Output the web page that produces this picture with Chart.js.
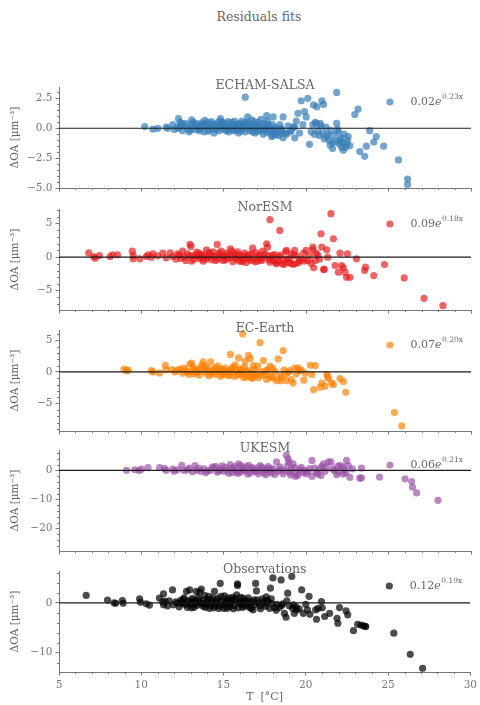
<!DOCTYPE html>
<html>
<head>
<meta charset="utf-8">
<title>Residuals fits</title>
<script src="https://cdn.jsdelivr.net/npm/chart.js@4.4.1/dist/chart.umd.min.js"></script>
<style>
  html, body { margin: 0; padding: 0; background: #fff; }
  #wrap { position: relative; width: 480px; height: 705px; overflow: hidden; }
  #wrap canvas { position: absolute; left: 0; }
  #suptitle {
    position: absolute; top: 9px; left: 0; width: 518px; text-align: center;
    font: 12.5px 'DejaVu Serif', serif; color: #666;
  }
</style>
</head>
<body>
<div id="wrap">
  <div id="suptitle">Residuals fits</div>
</div>
<script>
// residuals (T in °C, ΔOA in µm^-3)
const echam = [
  [10.2,0.14],[10.7,-0.08],[11.0,0.0],[11.5,0.1],[11.6,0.0],[11.9,0.3],[12.0,-0.1],[12.2,0.1],
  [12.25,0.8],[12.25,0.0],[12.35,0.5],[12.45,0.4],[12.5,-0.2],[12.6,0.2],[12.8,0.0],[12.9,-0.3],
  [12.95,-0.15],[13.0,0.3],[13.05,0.7],[13.1,0.1],[13.2,-0.1],[13.3,0.4],[13.4,0.2],[13.5,-0.2],
  [13.55,0.25],[13.6,0.0],[13.7,0.3],[13.8,-0.3],[13.85,0.65],[13.9,0.1],[14.0,0.5],[14.1,-0.1],
  [14.2,0.2],[14.3,0.0],[14.4,-0.4],[14.5,0.3],[14.6,0.1],[14.7,-0.2],[14.8,0.6],[14.8,0.8],
  [14.9,0.2],[15.0,-0.1],[15.1,0.4],[15.2,0.0],[15.3,-0.3],[15.4,0.2],[15.5,0.5],[15.6,-0.2],
  [15.7,0.1],[15.8,0.3],[15.9,-0.4],[16.0,0.0],[16.1,0.6],[16.2,0.2],[16.3,2.6],[16.3,-0.3],
  [16.4,0.4],[16.45,0.95],[16.5,0.1],[16.6,-0.2],[16.7,0.7],[16.8,0.3],[16.9,-0.4],[17.0,0.0],
  [17.1,0.5],[17.2,-0.2],[17.3,0.2],[17.4,-0.5],[17.5,0.1],[17.6,1.05],[17.6,-0.1],[17.7,0.3],
  [17.8,-0.4],[17.9,-0.7],[18.0,0.95],[18.0,-0.6],[18.1,0.1],[18.2,-0.5],[18.3,-0.3],[18.4,0.3],
  [18.5,-0.1],[18.6,0.95],[18.6,-0.8],[18.7,-0.4],[18.9,0.2],[19.0,-0.3],[19.2,0.1],[19.3,-0.8],
  [19.4,0.6],[19.5,1.25],[19.7,2.3],[19.9,1.4],[20.0,0.95],[20.1,2.5],[20.2,-1.35],[20.3,-0.3],
  [20.4,0.3],[20.45,1.95],[20.5,-0.5],[20.55,0.5],[20.6,0.4],[20.65,1.8],[20.7,-0.2],[20.8,-0.6],
  [20.85,0.4],[20.9,0.2],[20.95,2.3],[21.0,-0.4],[21.05,2.0],[21.1,-0.9],[21.2,0.1],[21.25,-0.7],
  [21.3,-0.5],[21.4,-1.0],[21.45,-1.4],[21.5,-0.2],[21.6,-1.7],[21.6,-1.2],[21.7,-0.6],[21.8,-1.1],
  [21.85,3.0],[21.85,0.4],[21.9,-0.1],[21.95,-0.3],[22.0,-1.3],[22.05,-1.0],[22.1,-0.8],[22.15,-1.6],
  [22.2,-1.2],[22.25,-1.85],[22.3,-0.5],[22.4,-1.6],[22.45,-1.3],[22.5,-1.0],[22.55,-0.7],[22.65,-1.45],
  [22.95,1.15],[23.15,1.6],[23.25,-1.95],[23.55,-2.35],[23.65,-1.5],[23.85,-0.2],[24.1,-1.15],[24.25,-0.7],
  [24.7,-1.5],[25.6,-2.65],[26.15,-4.25],[26.15,-4.7],
  [12.4,0.2],[12.7,0.4],[13.15,0.5],[13.45,-0.05],[13.65,0.45],[13.95,0.3],[14.05,-0.25],[14.25,0.55],
  [14.35,0.35],[14.55,-0.1],[14.65,0.5],[14.75,0.05],[14.95,0.45],[15.05,0.15],[15.15,-0.2],[15.25,0.55],
  [15.35,0.1],[15.45,-0.1],[15.55,0.3],[15.65,0.6],[15.75,-0.15],[15.85,0.05],[15.95,0.4],[16.05,-0.2],
  [16.15,0.3],[16.25,0.0],[16.35,0.5],[16.55,0.35],[16.65,0.05],[16.75,-0.3],[16.85,0.55],[16.95,0.15],
  [17.05,-0.25],[17.15,0.25],[17.25,0.75],[17.35,-0.1],[17.45,0.4],[17.55,-0.3],[17.65,0.6],[17.75,0.05],
  [17.85,-0.2],[17.95,0.3],[18.05,-0.4],[18.15,-0.1],[18.35,-0.6],[18.45,0.0],[18.55,-0.3],[18.8,-0.5],
  [19.1,-0.2],[19.3,0.1],[19.6,-0.4],[19.8,0.3]
];
const noresm = [
  [6.8,0.65],[7.1,0.1],[7.2,-0.15],[7.45,0.25],[8.1,0.1],[8.25,0.35],[8.55,0.35],[9.45,0.9],
  [9.5,0.25],[9.5,-0.25],[9.9,-0.25],[10.3,0.1],[10.4,0.35],[10.7,0.5],[10.6,0.0],[11.0,0.2],
  [11.3,0.6],[11.5,-0.1],[11.75,0.65],[11.9,0.1],[12.1,-0.3],[12.3,0.3],[12.5,0.9],[12.6,0.0],
  [12.7,-0.5],[12.8,0.5],[12.95,1.9],[13.0,1.6],[13.1,0.2],[13.2,-0.3],[13.35,0.75],[13.45,0.1],
  [13.55,-0.25],[13.65,0.4],[13.75,-0.6],[13.85,0.3],[13.95,1.1],[14.05,0.0],[14.15,0.5],[14.25,-0.4],
  [14.35,0.8],[14.45,0.1],[14.6,1.9],[14.65,-0.3],[14.75,0.4],[14.85,0.9],[14.95,-0.5],[15.05,0.2],
  [15.15,0.6],[15.25,-0.2],[15.4,1.25],[15.45,0.0],[15.55,-0.7],[15.65,0.5],[15.75,-0.3],[15.85,0.8],
  [15.95,-0.6],[16.05,0.2],[16.15,-0.4],[16.25,0.6],[16.35,-0.8],[16.45,0.0],[16.55,0.4],[16.65,-0.5],
  [16.75,1.35],[16.85,-0.2],[16.95,0.7],[17.05,-0.6],[17.15,0.3],[17.25,-0.3],[17.35,0.9],[17.45,-0.1],
  [17.6,2.0],[17.65,1.5],[17.7,0.2],[17.8,5.6],[17.8,-0.75],[17.9,-0.1],[18.0,-0.5],[18.1,0.4],
  [18.2,-1.0],[18.3,-0.6],[18.4,4.0],[18.45,0.3],[18.55,-1.0],[18.6,-0.4],[18.75,0.8],[18.8,1.0],
  [18.9,-0.8],[19.0,-0.2],[19.1,0.5],[19.2,-1.1],[19.3,1.0],[19.35,-1.0],[19.45,0.2],[19.6,-0.5],
  [19.75,-0.3],[19.85,0.6],[20.0,1.0],[20.1,-0.5],[20.2,0.2],[20.4,1.1],[20.4,1.5],[20.45,-1.6],
  [20.55,-0.5],[20.7,0.3],[20.9,3.5],[20.95,1.5],[21.05,-1.85],[21.1,-1.8],[21.25,1.1],[21.3,0.0],
  [21.5,6.5],[21.65,2.75],[21.75,-1.25],[21.95,-2.25],[22.05,0.6],[22.15,-1.25],[22.25,-1.6],[22.35,-2.25],
  [22.45,-3.0],[22.5,0.5],[22.65,-3.0],[23.05,-0.25],[23.55,-2.0],[23.6,-1.5],[24.1,-2.75],[24.75,-1.1],
  [25.95,-3.1],[27.15,-6.15],[28.3,-7.25],
  [12.2,0.5],[12.4,-0.2],[12.9,0.2],[13.05,-0.6],[13.3,0.3],[13.5,0.6],[13.7,0.1],[13.9,-0.3],
  [14.1,0.7],[14.3,0.2],[14.5,-0.5],[14.7,0.6],[14.9,0.1],[15.1,-0.4],[15.3,0.4],[15.5,0.9],
  [15.7,0.0],[15.9,0.3],[16.1,-0.7],[16.3,0.2],[16.5,-0.3],[16.7,0.5],[16.9,-0.7],[17.1,0.1],
  [17.3,-0.5],[17.5,0.5],[17.75,-0.4],[17.95,0.3],[18.15,-0.8],[18.35,0.1],[18.65,-1.1],[18.85,-0.3],
  [19.05,-0.9],[19.25,0.3],[19.55,-0.8],[19.9,-0.6],[20.3,-0.9],[20.6,0.6],[20.8,-0.3]
];
const ecearth = [
  [8.95,0.45],[9.1,0.2],[9.2,0.3],[10.6,0.2],[10.7,0.0],[11.1,-0.15],[11.45,1.05],[11.5,0.35],
  [11.85,0.35],[12.05,0.0],[12.35,0.5],[12.5,-0.2],[12.6,0.6],[12.8,0.0],[12.95,1.25],[13.05,1.4],
  [13.1,0.1],[13.2,-0.3],[13.3,0.4],[13.4,0.0],[13.5,-0.5],[13.65,1.05],[13.75,1.6],[13.8,0.35],
  [13.9,-0.2],[14.0,0.6],[14.1,-0.6],[14.2,1.6],[14.3,-0.1],[14.4,0.3],[14.5,-0.4],[14.65,0.9],
  [14.7,0.1],[14.8,-0.7],[14.9,0.4],[15.0,-0.2],[15.1,0.6],[15.2,-0.5],[15.3,0.2],[15.4,2.75],
  [15.45,-0.1],[15.55,0.8],[15.65,-0.7],[15.75,0.3],[15.9,2.2],[15.95,-0.3],[16.05,0.5],[16.15,6.0],
  [16.2,-0.9],[16.3,1.7],[16.35,0.1],[16.45,-0.6],[16.5,2.6],[16.6,2.1],[16.65,-0.2],[16.75,-0.9],
  [16.85,0.4],[16.95,-0.5],[17.05,0.9],[17.2,4.6],[17.25,0.0],[17.4,1.8],[17.45,-0.4],[17.6,-1.2],
  [17.65,0.3],[17.8,0.9],[17.9,-0.7],[18.0,-1.0],[18.1,0.1],[18.3,2.05],[18.4,-0.6],[18.5,-0.95],
  [18.6,3.35],[18.65,0.3],[18.75,-0.4],[18.9,-0.1],[19.1,-1.2],[19.2,-1.75],[19.3,0.6],[19.4,-0.3],
  [19.5,0.65],[19.6,0.2],[19.85,-1.3],[19.95,-0.2],[20.25,1.05],[20.35,-0.4],[20.45,-2.8],[20.55,1.0],
  [20.85,-2.4],[20.95,-1.75],[21.15,-2.25],[21.25,-0.4],[21.3,-0.75],[21.35,-1.05],[21.55,-1.75],[21.65,-2.0],
  [22.05,-1.05],[22.25,-1.5],[22.4,-3.2],[25.35,-6.4],[25.8,-8.5],
  [12.2,0.3],[12.7,0.2],[12.9,-0.4],[13.15,0.7],[13.35,-0.1],[13.55,0.5],[13.85,0.9],[14.05,0.2],
  [14.25,-0.3],[14.45,0.7],[14.55,0.2],[14.75,0.4],[14.95,-0.4],[15.15,0.1],[15.35,-0.6],[15.5,0.5],
  [15.7,1.1],[15.85,-0.5],[16.0,0.3],[16.1,-0.3],[16.25,0.8],[16.4,-0.8],[16.55,0.2],[16.7,-1.0],
  [16.8,1.0],[16.9,-0.6],[17.1,-0.9],[17.35,-0.5],[17.55,0.2],[17.75,-0.8],[17.95,0.6],[18.2,-1.4],
  [18.45,-1.4],[18.8,-1.4],[19.0,0.2],[19.7,0.3]
];
const ukesm = [
  [9.1,0.0],[9.6,0.2],[9.85,-0.1],[10.0,0.4],[10.4,0.9],[11.1,0.9],[11.4,0.7],[11.5,0.0],
  [11.9,0.4],[12.2,0.2],[12.45,1.75],[12.6,-0.1],[12.9,0.8],[13.25,1.6],[13.35,0.1],[13.6,-0.4],
  [13.8,0.5],[14.0,-0.2],[14.2,0.0],[14.4,0.9],[14.5,1.4],[14.6,-0.6],[14.8,0.4],[15.0,-0.3],
  [15.1,1.0],[15.2,0.0],[15.4,2.0],[15.5,-0.8],[15.6,0.5],[15.75,-0.4],[15.9,2.2],[16.0,-0.6],
  [16.1,0.7],[16.25,-0.2],[16.35,1.2],[16.5,1.75],[16.6,-0.9],[16.75,0.3],[16.9,-0.5],[17.0,0.8],
  [17.15,-0.2],[17.3,1.1],[17.45,-0.9],[17.6,0.6],[17.75,-0.3],[17.9,-0.9],[18.0,0.5],[18.2,2.9],
  [18.3,-0.4],[18.45,0.3],[18.6,-1.2],[18.8,5.2],[18.9,3.95],[18.95,2.9],[19.0,-0.6],[19.1,0.4],
  [19.2,2.2],[19.35,-2.1],[19.4,-0.9],[19.6,0.2],[19.8,-0.8],[19.9,0.0],[20.1,-0.5],[20.35,3.4],
  [20.35,-2.1],[20.5,0.8],[20.7,-1.3],[20.8,0.4],[20.95,1.4],[21.05,2.2],[21.15,-0.3],[21.35,2.9],
  [21.5,2.9],[21.7,-0.1],[21.85,-1.5],[21.9,1.4],[22.05,1.7],[22.25,-1.3],[22.3,0.2],[22.45,3.4],
  [22.55,1.6],[22.65,-2.45],[22.8,0.5],[23.25,-2.7],[23.35,-2.6],[23.35,0.8],[24.45,-2.3],[26.0,-2.9],
  [26.4,-3.85],[26.45,-5.8],[26.7,-7.8],[28.0,-10.35],
  [12.0,-0.3],[12.8,0.2],[13.1,-0.5],[13.5,0.7],[13.9,-0.8],[14.3,1.1],[14.7,-0.2],[14.9,1.5],
  [15.3,-1.0],[15.45,0.7],[15.7,1.3],[15.85,-1.1],[16.05,1.6],[16.2,0.2],[16.45,-1.3],[16.7,1.0],
  [16.85,-0.1],[17.1,-1.2],[17.2,1.6],[17.4,0.2],[17.55,-1.5],[17.7,1.3],[17.85,0.4],[18.1,-1.4],
  [18.4,1.2],[18.7,-0.2],[18.85,1.5],[19.05,-1.6],[19.3,0.9],[19.5,-1.7],[19.7,1.0],[20.0,-1.2],
  [20.2,0.6],[20.6,-0.6],[20.9,-1.8],[21.2,0.9],[21.6,0.5],[21.95,-0.6],[22.2,1.2],[22.4,-0.8]
];
const obs = [
  [6.65,1.5],[7.95,0.55],[8.35,0.0],[8.45,-0.1],[8.85,0.45],[8.9,-0.1],[9.9,0.8],[9.95,0.1],
  [10.3,-0.2],[10.5,-0.45],[11.1,0.95],[11.35,1.8],[11.35,-0.4],[11.45,0.3],[11.6,-0.6],[11.9,2.6],
  [11.95,-0.4],[12.1,0.2],[12.3,-0.8],[12.4,0.5],[12.5,-0.2],[12.6,1.0],[12.75,2.3],[12.8,-0.9],
  [12.85,0.4],[12.95,2.6],[13.0,-0.3],[13.1,0.9],[13.2,-0.9],[13.25,0.2],[13.35,2.3],[13.4,-0.5],
  [13.5,0.6],[13.55,2.2],[13.65,2.75],[13.7,-0.2],[13.8,0.6],[13.9,-0.9],[14.0,0.2],[14.1,1.3],
  [14.2,-0.5],[14.3,0.5],[14.4,-1.0],[14.45,2.3],[14.55,0.0],[14.65,0.9],[14.75,-0.6],[14.8,3.9],
  [14.9,0.3],[15.0,-1.1],[15.05,1.4],[15.15,-0.2],[15.25,0.6],[15.35,-0.8],[15.45,0.1],[15.55,1.1],
  [15.65,-0.5],[15.75,0.4],[15.8,1.6],[15.85,3.5],[15.85,3.8],[15.9,-1.0],[16.0,0.2],[16.1,-0.3],
  [16.2,0.9],[16.3,-0.7],[16.45,0.4],[16.55,-0.1],[16.7,-1.1],[16.8,-1.4],[16.85,0.6],[16.95,3.9],
  [17.0,2.4],[17.1,0.0],[17.2,-0.6],[17.35,0.8],[17.5,-0.2],[17.6,1.2],[17.7,0.3],[17.8,-1.1],
  [17.85,2.95],[17.9,0.8],[18.0,5.0],[18.1,-1.0],[18.25,-0.3],[18.5,4.6],[18.55,-0.5],[18.7,-2.1],
  [18.8,-2.9],[18.85,0.4],[18.9,1.95],[19.0,-0.6],[19.15,5.3],[19.2,-1.1],[19.25,-0.4],[19.3,-2.1],
  [19.45,-1.4],[19.6,-1.2],[19.75,2.6],[19.85,-2.1],[20.0,-0.3],[20.1,-1.4],[20.2,1.3],[20.25,-2.3],
  [20.6,-1.4],[20.65,-3.3],[20.75,-1.1],[20.95,0.25],[21.0,-1.0],[21.15,-2.75],[21.45,-2.1],[21.9,-3.1],
  [21.95,-4.1],[22.05,-0.95],[22.45,-1.6],[22.55,-2.4],[22.9,-5.6],[23.15,-4.3],[23.35,-4.45],[23.5,-4.6],
  [23.6,-4.7],[23.65,-4.75],[25.35,-6.1],[26.35,-10.35],[27.1,-13.15],
  [11.3,0.2],[11.7,0.4],[12.2,-0.1],[12.45,0.1],[12.55,0.7],[12.7,-0.3],[12.9,0.3],[13.05,-1.0],
  [13.15,0.5],[13.3,-0.2],[13.45,1.1],[13.6,0.0],[13.75,-0.7],[13.85,1.5],[13.95,-0.3],[14.05,0.7],
  [14.15,-1.1],[14.25,0.1],[14.35,1.0],[14.5,-0.6],[14.6,0.4],[14.7,-1.1],[14.85,1.3],[14.95,-0.4],
  [15.1,0.2],[15.2,-1.1],[15.3,1.0],[15.4,-0.3],[15.5,0.5],[15.6,-1.2],[15.7,0.9],[15.95,0.0],
  [16.05,1.1],[16.15,-0.9],[16.25,0.3],[16.4,-0.4],[16.5,1.0],[16.6,-1.0],[16.75,0.2],[16.9,-0.3],
  [17.05,0.6],[17.25,-1.2],[17.4,0.2],[17.55,-0.7],[17.65,0.5],[17.95,-0.2],[18.2,-1.5],[18.4,-0.9],
  [18.6,-0.2],[19.4,-0.8]
];

const seriesData = [echam, noresm, ecearth, ukesm, obs];
const modelNames = ['ECHAM-SALSA', 'NorESM', 'EC-Earth', 'UKESM', 'Observations'];
const fitCoef = ['0.02', '0.09', '0.07', '0.06', '0.12'];
const fitRate = ['0.23', '0.18', '0.20', '0.21', '0.19'];
const colors = [
  'rgba(55,126,184,0.7)',
  'rgba(228,26,28,0.68)',
  'rgba(255,127,0,0.68)',
  'rgba(152,78,163,0.68)',
  'rgba(0,0,0,0.7)',
];
const yLimits = [[-5.0, 3.45], [-7.9, 7.2], [-9.3, 6.6], [-27.8, 7.0], [-13.9, 6.4]];
const yMajorStep = [2.5, 5, 5, 10, 10];
const yMinorStep = [0.5, 1, 1, 2, 2];
const xTicks = [5, 10, 15, 20, 25, 30];

const plotTops = [87, 209, 330, 450, 571];
const plotH = 101;
const topSpace = 20;
const axisGrey = '#777';
const textGrey = '#666';
const serif = "'DejaVu Serif', serif";

Chart.defaults.font.family = serif;
Chart.defaults.color = axisGrey;

function fmt(v, dec) {
  const s = Math.abs(v).toFixed(dec);
  return v < -1e-9 ? '\u2212' + s : s;
}

// short minor ticks + subplot title + fit label
const decorations = {
  id: 'decorations',
  afterDraw(chart, args, opts) {
    const ctx = chart.ctx;
    const xs = chart.scales.x, ys = chart.scales.y;
    const area = chart.chartArea;
    ctx.save();
    ctx.strokeStyle = axisGrey;
    ctx.lineWidth = 1;
    ctx.beginPath();
    for (let v = 6; v < 30; v++) {
      if (v % 5 === 0) continue;
      const px = Math.round(xs.getPixelForValue(v)) + 0.5;
      ctx.moveTo(px, area.bottom);
      ctx.lineTo(px, area.bottom + 2);
    }
    const n0 = Math.ceil(ys.min / opts.minor), n1 = Math.floor(ys.max / opts.minor);
    const ratio = Math.round(opts.major / opts.minor);
    for (let k = n0; k <= n1; k++) {
      if (k % ratio === 0) continue;
      const py = Math.round(ys.getPixelForValue(k * opts.minor)) + 0.5;
      ctx.moveTo(area.left, py);
      ctx.lineTo(area.left - 2, py);
    }
    ctx.stroke();

    // subplot title
    ctx.fillStyle = textGrey;
    ctx.font = '12.5px ' + serif;
    ctx.textAlign = 'center';
    ctx.textBaseline = 'alphabetic';
    ctx.fillText(opts.title, (area.left + area.right) / 2, area.top + 1.5);

    // fit label with marker
    const ly = area.top + 15;
    ctx.fillStyle = opts.color;
    ctx.beginPath();
    ctx.arc(area.right - 81, ly, 3.6, 0, Math.PI * 2);
    ctx.fill();
    ctx.fillStyle = textGrey;
    ctx.textAlign = 'left';
    ctx.textBaseline = 'middle';
    let tx = area.right - 60.5;
    ctx.font = '11px ' + serif;
    ctx.fillText(opts.coef, tx, ly);
    tx += ctx.measureText(opts.coef).width;
    ctx.font = 'italic 11px ' + serif;
    ctx.fillText('e', tx, ly);
    tx += ctx.measureText('e').width + 0.5;
    ctx.font = '7.5px ' + serif;
    ctx.fillText(opts.rate + 'x', tx, ly - 4.5);
    ctx.restore();
  }
};

const wrap = document.getElementById('wrap');

seriesData.forEach((pts, i) => {
  const isLast = i === seriesData.length - 1;
  const bottomH = isLast ? 33 : 12;
  const canvas = document.createElement('canvas');
  canvas.width = 480;
  canvas.height = topSpace + plotH + bottomH;
  canvas.style.top = (plotTops[i] - topSpace) + 'px';
  wrap.appendChild(canvas);

  const dec = yMajorStep[i] % 1 === 0 ? 0 : 1;

  new Chart(canvas.getContext('2d'), {
    type: 'scatter',
    data: {
      datasets: [
        {
          type: 'line',
          data: [{ x: 5, y: 0 }, { x: 30, y: 0 }],
          borderColor: '#1a1a1a',
          borderWidth: 1.2,
          pointRadius: 0,
          order: 0,
        },
        {
          label: modelNames[i],
          data: pts.map(p => ({ x: p[0], y: p[1] })),
          backgroundColor: colors[i],
          borderWidth: 0,
          pointRadius: 3.6,
          order: 1,
        }
      ]
    },
    options: {
      responsive: false,
      animation: false,
      devicePixelRatio: 1,
      layout: { padding: { top: topSpace, right: 9, left: 0, bottom: 0 } },
      plugins: {
        legend: { display: false },
        tooltip: { enabled: false },
        decorations: {
          title: modelNames[i],
          coef: fitCoef[i],
          rate: fitRate[i],
          color: colors[i],
          major: yMajorStep[i],
          minor: yMinorStep[i],
        }
      },
      scales: {
        x: {
          type: 'linear',
          min: 5,
          max: 30,
          afterBuildTicks: s => { s.ticks = xTicks.map(v => ({ value: v })); },
          afterFit: s => { s.height = bottomH; },
          grid: { display: true, drawOnChartArea: false, drawTicks: true, tickLength: 3.5, tickColor: axisGrey },
          border: { display: true, color: axisGrey, width: 1 },
          ticks: {
            display: isLast,
            padding: 3,
            color: axisGrey,
            font: { size: 10.5 },
            maxRotation: 0,
          },
          title: {
            display: isLast,
            text: 'T  [\u00b0C]',
            color: textGrey,
            font: { size: 11 },
            padding: { top: 0, bottom: 1 },
          }
        },
        y: {
          type: 'linear',
          min: yLimits[i][0],
          max: yLimits[i][1],
          afterBuildTicks: s => {
            const step = yMajorStep[i];
            const t = [];
            for (let k = Math.ceil(s.min / step); k * step <= s.max; k++) t.push({ value: k * step });
            s.ticks = t;
          },
          afterFit: s => { s.width = 59; },
          grid: { display: true, drawOnChartArea: false, drawTicks: true, tickLength: 3.5, tickColor: axisGrey },
          border: { display: true, color: axisGrey, width: 1 },
          ticks: {
            padding: 3,
            color: axisGrey,
            font: { size: 10.5 },
            callback: v => fmt(v, dec),
          },
          title: {
            display: true,
            text: '\u0394OA [\u03bcm\u207b\u00b3]',
            color: textGrey,
            font: { size: 10.5 },
            padding: { top: 9, bottom: 0 },
          }
        }
      }
    },
    plugins: [decorations]
  });
});
</script>
</body>
</html>
